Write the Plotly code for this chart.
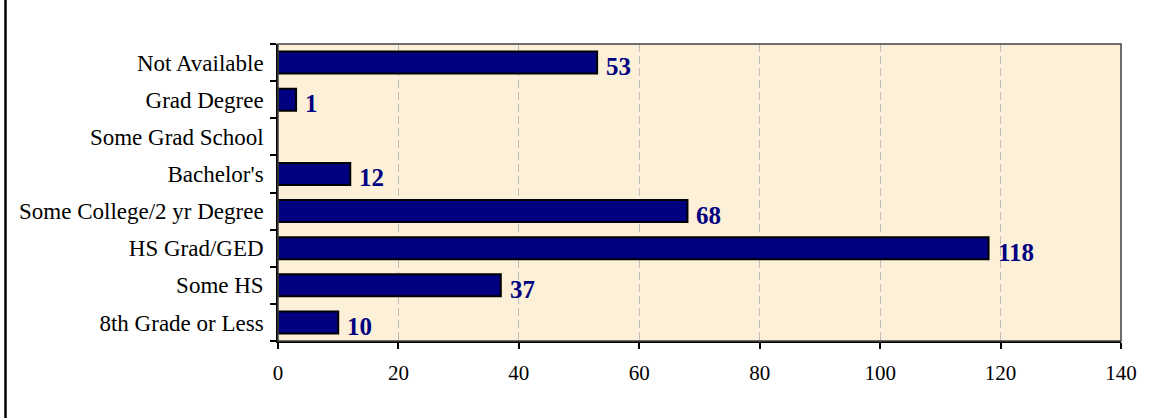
import plotly.graph_objects as go

categories = ["8th Grade or Less", "Some HS", "HS Grad/GED", "Some College/2 yr Degree",
              "Bachelor's", "Some Grad School", "Grad Degree", "Not Available"]
bar_values = [10, 37, 118, 68, 12, None, 3, 53]
value_labels = ["10", "37", "118", "68", "12", "", "1", "53"]
x_ticks = [0, 20, 40, 60, 80, 100, 120, 140]

W, H = 1149, 418
L, R, T, B = 278, 28, 44, 77
serif = "Times New Roman, Liberation Serif, serif"

fig = go.Figure()
fig.add_trace(go.Bar(
    y=categories, x=bar_values, orientation="h", width=0.59,
    marker=dict(color="#000080", line=dict(color="#000000", width=2)),
    hoverinfo="skip",
))

for v, t, c in zip(bar_values, value_labels, categories):
    if t and v is not None:
        fig.add_annotation(x=v, y=c, text="<b>" + t + "</b>", showarrow=False, xanchor="left",
                           yanchor="middle", xshift=7, yshift=-4,
                           font=dict(family=serif, size=25, color="#000080"))

pw = W - L - R
ph = H - T - B
fig.add_shape(type="rect", xref="paper", yref="paper", x0=0, x1=1, y0=0, y1=1,
              line=dict(color="#404040", width=1.5), layer="above")
fig.add_shape(type="line", xref="paper", yref="paper",
              x0=(5.5 - L) / pw, x1=(5.5 - L) / pw, y0=-B / ph - 0.1, y1=1 + T / ph + 0.1,
              line=dict(color="#000000", width=2.5))

fig.update_layout(
    width=W, height=H,
    margin=dict(l=L, r=R, t=T, b=B, pad=0),
    paper_bgcolor="#FFFFFF",
    plot_bgcolor="#FCF0D9",
    showlegend=False,
    bargap=0.41,
    font=dict(family=serif, color="#000000"),
)
fig.update_xaxes(
    range=[0, 140], tickvals=x_ticks, ticktext=[str(t) for t in x_ticks],
    showgrid=True, gridcolor="#BDBDBD", griddash="8px,4px", gridwidth=1,
    ticks="outside", ticklen=6, tickcolor="#000000", tickwidth=1.5,
    showline=True, linecolor="#000000", linewidth=1.5,
    tickfont=dict(family=serif, size=21, color="#000000"),
    ticklabelstandoff=6, zeroline=False, fixedrange=True,
)
fig.update_yaxes(
    type="category", categoryorder="array", categoryarray=categories,
    range=[-0.5, len(categories) - 0.5],
    ticks="outside", tickson="boundaries", ticklen=6, tickcolor="#000000", tickwidth=1.5,
    showline=True, linecolor="#000000", linewidth=1.5, showgrid=False,
    tickfont=dict(family=serif, size=23, color="#000000"),
    ticklabelstandoff=8, fixedrange=True,
)

fig.write_html("out.html", config={"displayModeBar": False})
with open("out.html", encoding="utf-8") as f:
    html = f.read()
html = html.replace("<head>", "<head><style>html,body{margin:0;padding:0;overflow:hidden;}</style>", 1)
with open("out.html", "w", encoding="utf-8") as f:
    f.write(html)
